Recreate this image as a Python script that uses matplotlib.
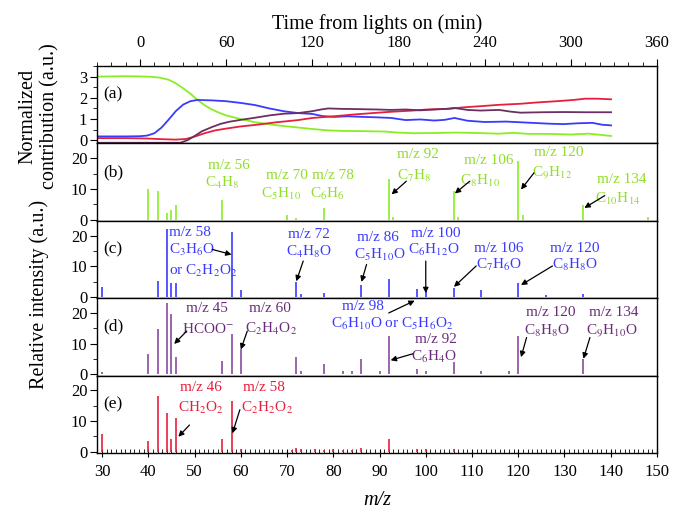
import matplotlib
matplotlib.use("Agg")
import matplotlib.pyplot as plt
from matplotlib.ticker import MultipleLocator

plt.rcParams['font.family'] = ['Liberation Serif', 'DejaVu Serif']
plt.rcParams['mathtext.fontset'] = 'stix'

# panel (a): factor time series (minutes from lights on)
green_t = [-30, -10, 0, 8, 14, 20, 25, 30, 35, 40, 45, 50, 55, 60, 70, 80, 90, 100, 110, 120,
           130, 140, 155, 170, 180, 190, 205, 220, 235, 250, 260, 270, 285, 300, 312, 320, 328]
green_v = [3.0, 3.02, 3.01, 2.99, 2.95, 2.85, 2.68, 2.45, 2.2, 1.9, 1.65, 1.45, 1.3, 1.17, 1.0, 0.85,
           0.75, 0.67, 0.6, 0.53, 0.47, 0.44, 0.43, 0.41, 0.36, 0.33, 0.34, 0.36, 0.34, 0.31, 0.35,
           0.3, 0.3, 0.27, 0.31, 0.26, 0.2]
blue_t = [-30, -10, 0, 5, 10, 15, 20, 25, 30, 35, 40, 50, 60, 70, 80, 90, 100, 110, 120, 127, 135,
          145, 155, 165, 175, 185, 195, 205, 212, 219, 228, 240, 255, 270, 285, 295, 305, 315, 322, 328]
blue_v = [0.18, 0.18, 0.19, 0.22, 0.33, 0.6, 0.98, 1.38, 1.68, 1.84, 1.9, 1.88, 1.84, 1.76, 1.66,
          1.5, 1.37, 1.28, 1.24, 1.14, 1.1, 1.13, 1.1, 1.08, 1.05, 0.95, 0.98, 0.93, 0.96, 1.05, 0.92,
          0.86, 0.88, 0.83, 0.78, 0.76, 0.8, 0.82, 0.73, 0.7]
red_t = [-30, -10, 5, 15, 25, 32, 38, 45, 52, 60, 70, 80, 94, 110, 120, 135, 150, 172, 190, 200,
         215, 225, 240, 250, 265, 276, 290, 302, 310, 318, 328]
red_v = [0.1, 0.1, 0.08, 0.05, 0.03, 0.06, 0.17, 0.33, 0.46, 0.55, 0.65, 0.72, 0.84, 0.95, 1.05,
         1.13, 1.22, 1.33, 1.4, 1.45, 1.48, 1.55, 1.62, 1.67, 1.72, 1.78, 1.84, 1.9, 1.96, 1.96, 1.93]
purple_t = [-30, 28, 33, 38, 43, 50, 56, 62, 70, 80, 90, 100, 110, 120, 126, 131, 140, 150, 165,
            175, 185, 195, 205, 213, 219, 228, 237, 250, 258, 265, 280, 295, 310, 328]
purple_v = [-0.12, -0.12, 0.0, 0.2, 0.42, 0.62, 0.77, 0.87, 0.96, 1.06, 1.17, 1.25, 1.28, 1.37,
            1.45, 1.5, 1.48, 1.47, 1.45, 1.43, 1.45, 1.41, 1.45, 1.48, 1.52, 1.43, 1.4, 1.43, 1.35,
            1.3, 1.32, 1.33, 1.32, 1.32]

# panels (b)-(e): factor mass spectra
mz_b = [40, 42, 44, 45, 46, 56, 70, 72, 78, 92, 93, 106, 107, 120, 121, 134, 148]
int_b = [9.8, 9.2, 2.2, 3.0, 4.9, 6.5, 1.6, 0.5, 3.8, 13.3, 1.0, 9.2, 1.0, 19.0, 1.5, 4.9, 1.0]
mz_c = [30, 42, 44, 45, 46, 58, 60, 72, 73, 78, 86, 92, 98, 100, 106, 112, 120, 126, 134]
int_c = [3.3, 5.1, 22.0, 4.4, 4.4, 21.0, 2.3, 4.9, 1.0, 1.2, 3.9, 5.9, 2.6, 1.8, 3.0, 2.3, 4.4, 0.8, 1.0]
mz_d = [30, 40, 42, 44, 45, 46, 56, 58, 60, 72, 73, 78, 82, 84, 86, 90, 92, 98, 100, 106, 112,
        118, 120, 134]
int_d = [0.8, 6.7, 14.9, 23.2, 19.8, 5.6, 4.3, 13.1, 8.3, 5.6, 1.0, 3.5, 1.0, 1.0, 5.1, 1.0, 12.6,
         1.9, 1.2, 4.0, 1.2, 1.2, 12.6, 5.1]
mz_e = [30, 40, 42, 44, 45, 46, 56, 58, 60, 71, 72, 73, 76, 78, 80, 82, 84, 86, 92, 98, 100, 106]
int_e = [5.7, 3.6, 18.3, 12.6, 4.0, 10.9, 4.0, 16.4, 0.8, 0.6, 1.3, 1.0, 1.0, 0.6, 0.8, 0.6, 0.6,
         1.2, 4.2, 1.0, 0.8, 1.0]

GREEN = '#8aee22'
BLUE = '#3a3aff'
PURPLE_LINE = '#6b2f63'
PURPLE = '#8a4aa0'
PURPLE_TXT = '#6a2c7a'
RED = '#e6203c'

# (text, x, y) labels and (tail, tip) arrows per panel
labels_b = [("m/z 56", 57.4, 17.6), ("C$_4$H$_8$", 55.9, 12.0),
            ("m/z 70", 69.9, 14.3), ("C$_5$H$_{10}$", 68.7, 8.2),
            ("m/z 78", 79.9, 14.3), ("C$_6$H$_6$", 78.7, 8.2),
            ("m/z 92", 98.4, 21.2), ("C$_7$H$_8$", 97.6, 14.1),
            ("m/z 106", 113.7, 19.3), ("C$_8$H$_{10}$", 111.7, 12.5),
            ("m/z 120", 128.8, 21.7), ("C$_9$H$_{12}$", 127.4, 15.2),
            ("m/z 134", 142.3, 13.0), ("C$_{10}$H$_{14}$", 141.5, 6.7)]
arrows_b = [((95.8, 12.5), (92.6, 8.2)), ((109.5, 12.5), (106.3, 8.5)),
            ((123.4, 15.2), (120.6, 9.8)), ((138.7, 7.8), (134.3, 3.8))]

labels_c = [("m/z 72", 74.7, 20.5), ("C$_4$H$_8$O", 74.7, 14.8),
            ("m/z 86", 89.6, 19.5), ("C$_5$H$_{10}$O", 90.0, 13.75),
            ("m/z 100", 102.1, 20.7), ("C$_6$H$_{12}$O", 101.7, 15.3),
            ("m/z 106", 115.8, 15.8), ("C$_7$H$_6$O", 115.8, 10.3),
            ("m/z 120", 132.3, 15.8), ("C$_8$H$_8$O", 132.3, 10.3)]
labels_c_left = [("m/z 58", 44.5, 21.0), ("C$_3$H$_6$O", 44.5, 15.3),
                 ("or C$_2$H$_2$O$_2$", 44.5, 8.5)]
arrows_c = [((53.8, 15.5), (58.0, 13.8)), ((73.5, 11.7), (72.0, 5.1)),
            ((87.2, 10.6), (86.1, 4.9)), ((100.0, 11.7), (100.0, 1.25)),
            ((110.9, 10.1), (106.1, 3.3)), ((127.4, 10.1), (120.6, 3.9))]

labels_d = [("m/z 45", 52.6, 21.3), ("HCOO$^{-}$", 53.0, 14.7),
            ("m/z 60", 66.2, 21.3), ("C$_2$H$_4$O$_2$", 66.6, 14.7),
            ("m/z 92", 102.1, 11.5), ("C$_6$H$_4$O", 101.7, 5.6),
            ("m/z 120", 127.0, 20.0), ("C$_8$H$_8$O", 126.2, 14.1),
            ("m/z 134", 140.7, 20.0), ("C$_9$H$_{10}$O", 140.3, 14.1)]
labels_d_blue = [("m/z 98", 86.4, 22.1), ("C$_6$H$_{10}$O or C$_5$H$_6$O$_2$", 92.8, 16.3)]
arrows_d = [((48.3, 14.1), (45.6, 9.9)), ((61.4, 14.1), (60.0, 8.1)),
            ((92.0, 20.0), (97.6, 24.0)), ((97.2, 6.7), (92.4, 4.6)),
            ((121.8, 12.0), (120.6, 5.6)), ((135.5, 12.0), (134.1, 5.1))]

labels_e = [("m/z 46", 51.35, 20.8), ("CH$_2$O$_2$", 51.35, 14.2),
            ("m/z 58", 65.0, 20.8), ("C$_2$H$_2$O$_2$", 65.7, 14.2)]
arrows_e = [((48.9, 8.7), (46.5, 4.9)), ((59.8, 13.7), (58.2, 6.0))]

fig = plt.figure(figsize=(6.73, 5.17), dpi=100)
gs = fig.add_gridspec(5, 1, left=0.1441, right=0.9762, top=0.8723, bottom=0.1238, hspace=0)
axes = [fig.add_subplot(gs[i]) for i in range(5)]
ax_a, ax_b, ax_c, ax_d, ax_e = axes

# (a)
ax_a.plot(green_t, green_v, color=GREEN, lw=1.3)
ax_a.plot(blue_t, blue_v, color=BLUE, lw=1.3)
ax_a.plot(red_t, red_v, color=RED, lw=1.3)
ax_a.plot(purple_t, purple_v, color=PURPLE_LINE, lw=1.3)
ax_a.set_xlim(-30, 360)
ax_a.set_ylim(-0.15, 3.5)
ax_a.xaxis.tick_top()
ax_a.xaxis.set_label_position('top')
ax_a.set_xticks(range(0, 361, 60))
ax_a.xaxis.set_minor_locator(MultipleLocator(10))
ax_a.set_yticks([0, 1, 2, 3])
ax_a.yaxis.set_minor_locator(MultipleLocator(0.5))
ax_a.set_xlabel("Time from lights on (min)", fontsize=14.5, labelpad=4)
ax_a.tick_params(axis='x', which='major', direction='out', length=5, labelsize=12, pad=6)
ax_a.tick_params(axis='x', which='minor', direction='out', length=3)

spectra = [(ax_b, mz_b, int_b, GREEN), (ax_c, mz_c, int_c, BLUE),
           (ax_d, mz_d, int_d, PURPLE), (ax_e, mz_e, int_e, RED)]
for ax, mz, inten, col in spectra:
    ax.vlines(mz, 0, inten, color=col, lw=1.2)
    ax.set_xlim(28.9, 150)
    ax.set_ylim(-0.4, 24.8)
    ax.set_yticks([0, 10, 20])
    ax.yaxis.set_minor_locator(MultipleLocator(5))
    ax.xaxis.set_major_locator(MultipleLocator(10))
    ax.xaxis.set_minor_locator(MultipleLocator(1))
    if ax is not ax_e:
        ax.tick_params(axis='x', which='both', bottom=False, labelbottom=False)

ax_e.tick_params(axis='x', which='major', direction='inout', length=6, labelsize=12, pad=5)
ax_e.tick_params(axis='x', which='minor', direction='in', length=3)
ax_e.set_xlabel("m/z", fontsize=14.5, style='italic', labelpad=8)

for ax in axes:
    ax.tick_params(axis='y', which='major', direction='out', length=5, labelsize=12, pad=2)
    ax.tick_params(axis='y', which='minor', direction='out', length=3)
    for sp in ax.spines.values():
        sp.set_linewidth(1.0)

for ax, tag in zip(axes, ['(a)', '(b)', '(c)', '(d)', '(e)']):
    ax.text(0.012, 0.63, tag, transform=ax.transAxes, fontsize=12.5, va='center', ha='left')

FS = 11


def put_labels(ax, items, color, ha='center'):
    for txt, x, y in items:
        ax.text(x, y, txt, color=color, fontsize=FS, ha=ha, va='center')


def put_arrows(ax, items):
    for tail, tip in items:
        ax.annotate('', xy=tip, xytext=tail, annotation_clip=False,
                    arrowprops=dict(arrowstyle='-|>', color='k', lw=0.9,
                                    mutation_scale=8, shrinkA=0, shrinkB=0))


put_labels(ax_b, labels_b, '#90dd2a')
put_arrows(ax_b, arrows_b)
put_labels(ax_c, labels_c, BLUE)
put_labels(ax_c, labels_c_left, BLUE, ha='left')
put_arrows(ax_c, arrows_c)
put_labels(ax_d, labels_d, PURPLE_TXT)
put_labels(ax_d, labels_d_blue, BLUE)
put_arrows(ax_d, arrows_d)
put_labels(ax_e, labels_e, RED)
put_arrows(ax_e, arrows_e)

fig.text(0.058, 0.775, "Normalized\ncontribution (a.u.)", rotation=90, fontsize=14.5,
         ha='center', va='center', multialignment='center', linespacing=1.15)
fig.text(0.058, 0.43, "Relative intensity (a.u.)", rotation=90, fontsize=14.5,
         ha='center', va='center')

fig.savefig("out.png", dpi=100)
